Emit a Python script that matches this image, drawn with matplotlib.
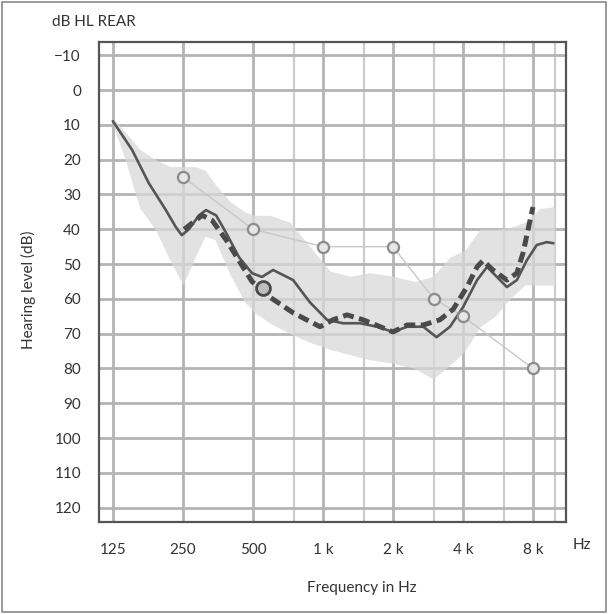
import numpy as np
import matplotlib.pyplot as plt
from matplotlib.patches import Rectangle

# shaded range (dB HL): frequency, upper edge (low dB), lower edge (high dB)
band_freq = [125, 141, 163, 190, 220, 250, 282, 311, 343, 398, 462, 510, 592, 721, 879,
             1072, 1307, 1593, 2000, 2487, 2972, 3517, 4080, 4734, 5493, 6370, 7390, 8574, 9950]
band_low = [8, 12, 17, 20, 22, 22, 22, 23, 27, 32, 35, 36, 36, 38, 45,
            52, 53.5, 52.5, 53.5, 55, 53.5, 48, 46, 40, 40, 39.5, 38, 34, 33.5]
band_high = [10, 20, 34, 40, 49, 56, 48, 42, 43, 53, 61, 64, 67, 70, 72.5,
             74.5, 76, 77.5, 78.5, 80, 83, 79, 75, 68, 65, 60, 56, 56, 56]

# solid curve
solid_freq = [125, 151, 178, 211, 233, 247, 265, 293, 314, 347, 383, 435, 495, 546, 610, 744,
              879, 1041, 1219, 1444, 1710, 2000, 2300, 2700, 3080, 3517, 4000, 4600, 5080,
              5600, 6180, 6820, 7530, 8310, 9170, 9770]
solid_db = [9, 17.2, 26.7, 34.5, 39.4, 41.7, 40, 36, 34.5, 36, 41, 48, 52.6, 53.7, 51.7, 54.6,
            61, 66, 67, 67, 68, 69.5, 68, 68, 71, 68, 62.4, 54.6, 50.8,
            53.7, 56.6, 54.6, 48.9, 44.5, 43.7, 44]

# dashed curve
dash_freq = [253, 302, 333, 383, 435, 495, 546, 591, 744, 971, 1104, 1269, 1486, 1761, 2000,
             2300, 2700, 3183, 3628, 4160, 4600, 4880, 5380, 6180, 6820, 7250, 8000]
dash_db = [40, 36, 37.4, 43, 49, 55, 57.5, 59.5, 64, 68, 66, 64.6, 66, 68, 69.5,
           67.5, 67.5, 66, 63, 56.6, 50.8, 49, 51.7, 54.6, 52.6, 46.8, 33.6]

# circle markers
circ_freq = [250, 500, 1000, 2000, 3000, 4000, 8000]
circ_db = [25, 40, 45, 45, 60, 65, 80]
mark_freq = [552]
mark_db = [57]

tick_freq = [125, 250, 500, 1000, 2000, 4000, 8000]
tick_lab = ['125', '250', '500', '1 k', '2 k', '4 k', '8 k']
mid_freq = [750, 1500, 3000, 6000, 10000]
db_ticks = list(range(-10, 121, 10))

plt.rcParams['font.family'] = ['Lato', 'DejaVu Sans']
txt = '#333333'

fig = plt.figure(figsize=(6.08, 6.14), dpi=100)
ax = fig.add_axes([99 / 608, 92 / 614, 467 / 608, 480 / 614])

ax.set_xscale('log')
ax.set_xlim(108.8, 11096)
ax.set_ylim(124.1, -13.8)

ax.set_xticks(tick_freq)
ax.set_xticklabels(tick_lab)
ax.set_xticks(mid_freq, minor=True)
ax.xaxis.set_minor_formatter(plt.NullFormatter())
ax.set_yticks(db_ticks)
ax.set_yticklabels(['\u221210'] + [str(v) for v in db_ticks[1:]])
ax.tick_params(which='both', length=0, labelsize=11, colors=txt)
ax.tick_params(axis='x', pad=15)
ax.tick_params(axis='y', pad=13)

ax.grid(which='major', color='#b4b4b4', lw=2.0, zorder=0)
ax.grid(which='minor', axis='x', color='#cccccc', lw=1.6, zorder=0)
ax.set_axisbelow(True)
for s in ax.spines.values():
    s.set_color('#555555')
    s.set_linewidth(1.6)

ax.fill_between(band_freq, band_low, band_high, color='#d9d9d9', alpha=0.75, lw=0, zorder=1)

ax.plot(circ_freq, circ_db, color='#c8c8c8', lw=1.0, zorder=2)
ax.plot(circ_freq, circ_db, ls='none', marker='o', ms=8, mfc='#e6e6e6', mec='#8c8c8c', mew=1.6,
        zorder=5)

ax.plot(solid_freq, solid_db, color='#555555', lw=1.9, zorder=3)
ax.plot(dash_freq, dash_db, color='#4a4a4a', lw=3.6, dashes=(2.2, 1.1), dash_capstyle='butt',
        zorder=4)
ax.plot(mark_freq, mark_db, ls='none', marker='o', ms=10, mfc='#bdbdbd', mec='#4a4a4a', mew=2,
        zorder=4)

fig.text(52 / 608, 1 - 22 / 614, 'dB HL REAR', fontsize=11, color=txt, va='center', ha='left')
fig.text(582 / 608, 1 - 545 / 614, 'Hz', fontsize=11, color=txt, va='center', ha='center')
fig.text(362 / 608, 1 - 588 / 614, 'Frequency in Hz', fontsize=11, color=txt, va='center',
         ha='center')
fig.text(28 / 608, 1 - 290 / 614, 'Hearing level (dB)', fontsize=11, color=txt, va='center',
         ha='center', rotation=90)

fig.patches.append(Rectangle((0.003, 0.003), 0.994, 0.994, transform=fig.transFigure,
                             fill=False, ec='#8a8a8a', lw=1.2))

fig.savefig('out.png', dpi=100)
